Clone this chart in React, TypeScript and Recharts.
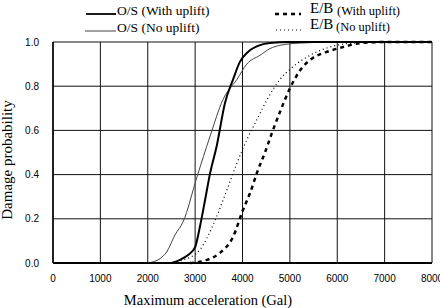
import { LineChart, Line, XAxis, YAxis, CartesianGrid, Label } from "recharts";

// acceleration (Gal) vs damage probability
const xTicks = [0, 1000, 2000, 3000, 4000, 5000, 6000, 7000, 8000];
const yTicks = [0, 0.2, 0.4, 0.6, 0.8, 1.0];

const osWithUplift: [number, number][] = [
  [2510, 0], [2680, 0.014], [2850, 0.036], [3000, 0.072], [3100, 0.163],
  [3210, 0.285], [3310, 0.4], [3460, 0.534], [3630, 0.724], [3800, 0.83],
  [3945, 0.91], [4115, 0.955], [4370, 0.986], [4580, 0.995], [5000, 1.0],
  [8000, 1.0],
];

const osNoUplift: [number, number][] = [
  [2000, 0], [2260, 0.02], [2400, 0.05], [2575, 0.127], [2745, 0.186],
  [3040, 0.39], [3310, 0.57], [3590, 0.74], [3880, 0.83], [4090, 0.9],
  [4370, 0.94], [4580, 0.97], [4790, 0.985], [5210, 0.995], [6000, 1.0],
  [8000, 1.0],
];

const ebWithUplift: [number, number][] = [
  [2890, 0], [3250, 0.014], [3520, 0.045], [3800, 0.118], [4010, 0.24],
  [4160, 0.317], [4325, 0.42], [4475, 0.5], [4620, 0.588], [4790, 0.683],
  [5000, 0.79], [5210, 0.87], [5485, 0.928], [5780, 0.955], [6120, 0.977],
  [6480, 0.995], [7000, 1.0], [8000, 1.0],
];

const ebNoUplift: [number, number][] = [
  [2360, 0], [2745, 0.014], [3100, 0.06], [3375, 0.17], [3670, 0.33],
  [3880, 0.45], [4090, 0.557], [4300, 0.647], [4515, 0.738], [4790, 0.83],
  [5060, 0.887], [5360, 0.932], [5780, 0.973], [6330, 0.995], [7000, 1.0],
  [8000, 1.0],
];

const toPoints = (s: [number, number][]) => s.map(([acc, prob]) => ({ acc, prob }));

const serif = "'Liberation Serif', 'Times New Roman', serif";
const sans = "'Liberation Sans', Arial, sans-serif";

function ChartLegend() {
  return (
    <svg width={440} height={40} style={{ position: "absolute", left: 0, top: 0 }}>
      <g fontFamily={serif} fill="#000">
        <line x1={86} x2={116} y1={14} y2={14} stroke="#000" strokeWidth={1.8} />
        <text x={117} y={15} fontSize={13.5}>O/S (With uplift)</text>
        <line x1={85} x2={116} y1={31} y2={31} stroke="#444" strokeWidth={1} />
        <text x={117} y={32} fontSize={13.5}>O/S (No uplift)</text>

        <line x1={275} x2={301} y1={14} y2={14} stroke="#000" strokeWidth={2.5} strokeDasharray="4 4" />
        <text x={310} y={13} fontSize={15}>E/B</text>
        <text x={337} y={15} fontSize={12.5}>(With uplift)</text>
        <line x1={276} x2={301} y1={30} y2={30} stroke="#000" strokeWidth={1} strokeDasharray="1 3" />
        <text x={310} y={29} fontSize={15}>E/B</text>
        <text x={336} y={31} fontSize={12.5}>(No uplift)</text>
      </g>
    </svg>
  );
}

export default function App() {
  return (
    <div style={{ position: "absolute", left: 0, top: 0, width: 440, height: 308 }}>
      <LineChart width={440} height={308} margin={{ top: 42, right: 8, bottom: 0, left: 0 }}>
        <CartesianGrid stroke="#111" strokeWidth={1} />
        <XAxis
          type="number"
          dataKey="acc"
          domain={[0, 8000]}
          ticks={xTicks}
          height={45}
          tickLine={false}
          tickMargin={6}
          axisLine={{ stroke: "#000", strokeWidth: 2 }}
          tick={{ fontFamily: sans, fontSize: 10, fill: "#000" }}
          interval={0}
        >
          <Label
            content={() => (
              <text x={208} y={305} textAnchor="middle" fontFamily={serif} fontSize={14.5} fill="#000">
                Maximum acceleration (Gal)
              </text>
            )}
          />
        </XAxis>
        <YAxis
          type="number"
          domain={[0, 1]}
          ticks={yTicks}
          width={53}
          tickLine={false}
          tickMargin={8}
          axisLine={{ stroke: "#000", strokeWidth: 1.5 }}
          tickFormatter={(v: number) => v.toFixed(1)}
          tick={{ fontFamily: sans, fontSize: 10, fill: "#000" }}
          interval={0}
        >
          <Label
            content={() => (
              <text
                x={12}
                y={160}
                transform="rotate(-90 12 160)"
                textAnchor="middle"
                fontFamily={serif}
                fontSize={15}
                fill="#000"
              >
                Damage probability
              </text>
            )}
          />
        </YAxis>
        <Line
          data={toPoints(osNoUplift)}
          dataKey="prob"
          type="monotone"
          stroke="#444"
          strokeWidth={1}
          dot={false}
          isAnimationActive={false}
        />
        <Line
          data={toPoints(ebNoUplift)}
          dataKey="prob"
          type="monotone"
          stroke="#000"
          strokeWidth={1.2}
          strokeDasharray="1 3"
          dot={false}
          isAnimationActive={false}
        />
        <Line
          data={toPoints(ebWithUplift)}
          dataKey="prob"
          type="monotone"
          stroke="#000"
          strokeWidth={2.5}
          strokeDasharray="4 4"
          dot={false}
          isAnimationActive={false}
        />
        <Line
          data={toPoints(osWithUplift)}
          dataKey="prob"
          type="monotone"
          stroke="#000"
          strokeWidth={2}
          dot={false}
          isAnimationActive={false}
        />
      </LineChart>
      <ChartLegend />
    </div>
  );
}
